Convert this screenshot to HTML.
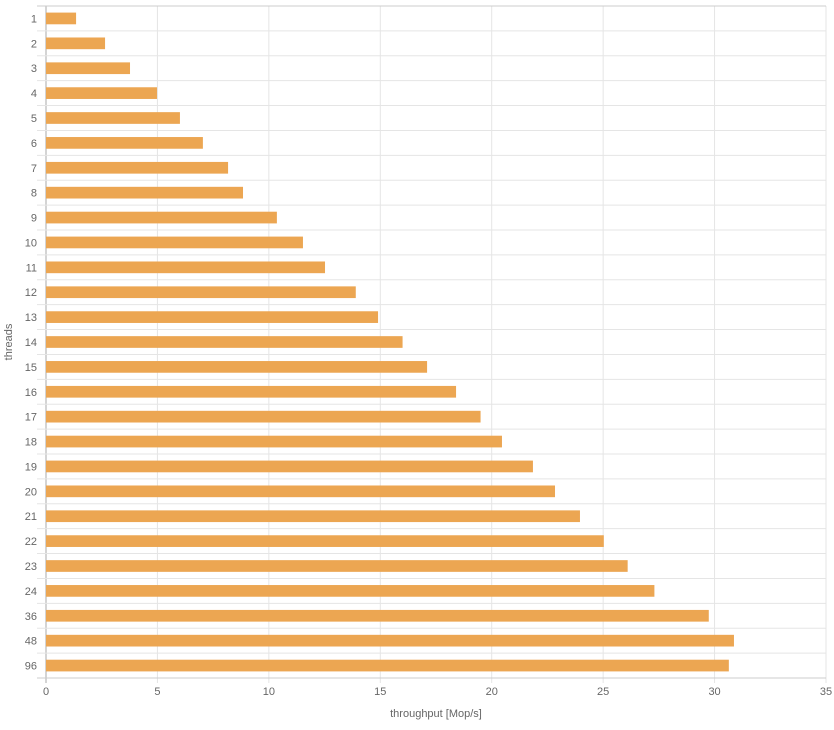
<!DOCTYPE html>
<html><head><meta charset="utf-8"><style>
body{margin:0;background:#fff;font-family:"Liberation Sans",Arial,sans-serif}
svg text{font-family:"Liberation Sans",Arial,sans-serif;fill:#666;font-size:11px}
</style></head><body>
<svg id="chart" width="834" height="725" xmlns="http://www.w3.org/2000/svg"></svg>
<script>
const categories=["1","2","3","4","5","6","7","8","9","10","11","12","13","14","15","16","17","18","19","20","21","22","23","24","36","48","96"];
const values=[1.35,2.65,3.77,4.98,6.01,7.04,8.17,8.84,10.36,11.53,12.52,13.9,14.9,16.0,17.1,18.4,19.5,20.46,21.85,22.84,23.96,25.03,26.1,27.3,29.74,30.87,30.64];
const xTicks=[0,5,10,15,20,25,30,35];
const svg=document.getElementById('chart');
const NS='http://www.w3.org/2000/svg';
const L=46,R=826,T=6,B=678,XMAX=35;
const n=categories.length;
const band=(B-T)/n;
function x(v){return L+v/XMAX*(R-L);}
function y(i){return T+i*band;}
function mk(tag,attrs){const e=document.createElementNS(NS,tag);for(const k in attrs)e.setAttribute(k,attrs[k]);svg.appendChild(e);return e;}
xTicks.forEach(t=>{
  const g=mk('line',{x1:x(t),x2:x(t),y1:T,y2:B+5,stroke:t===0?'#aaa':'#e5e5e5'});
  
  
  const tx=mk('text',{x:x(t),y:B+17,'text-anchor':'middle'});tx.textContent=t;
  
  
});
for(let i=0;i<=n;i++){
  const g=mk('line',{x1:37,x2:R,y1:y(i),y2:y(i),stroke:(i===0||i===n)?'#ccc':'#e5e5e5'});
  
  
}
categories.forEach((c,i)=>{
  const bh=band*0.47;
  const b=mk('rect',{x:L,y:y(i)+band/2-bh/2,width:x(values[i])-L,height:bh,fill:'#eca652'});
  
  
  const t=mk('text',{x:37,y:y(i)+band/2+4,'text-anchor':'end'});t.textContent=c;
  
  
});
const xt=mk('text',{x:(L+R)/2,y:717,'text-anchor':'middle'});xt.textContent='throughput [Mop/s]';


const yt=mk('text',{x:12,y:(T+B)/2,'text-anchor':'middle',transform:'rotate(-90 12 '+(T+B)/2+')'});yt.textContent='threads';


</script>
</body></html>
